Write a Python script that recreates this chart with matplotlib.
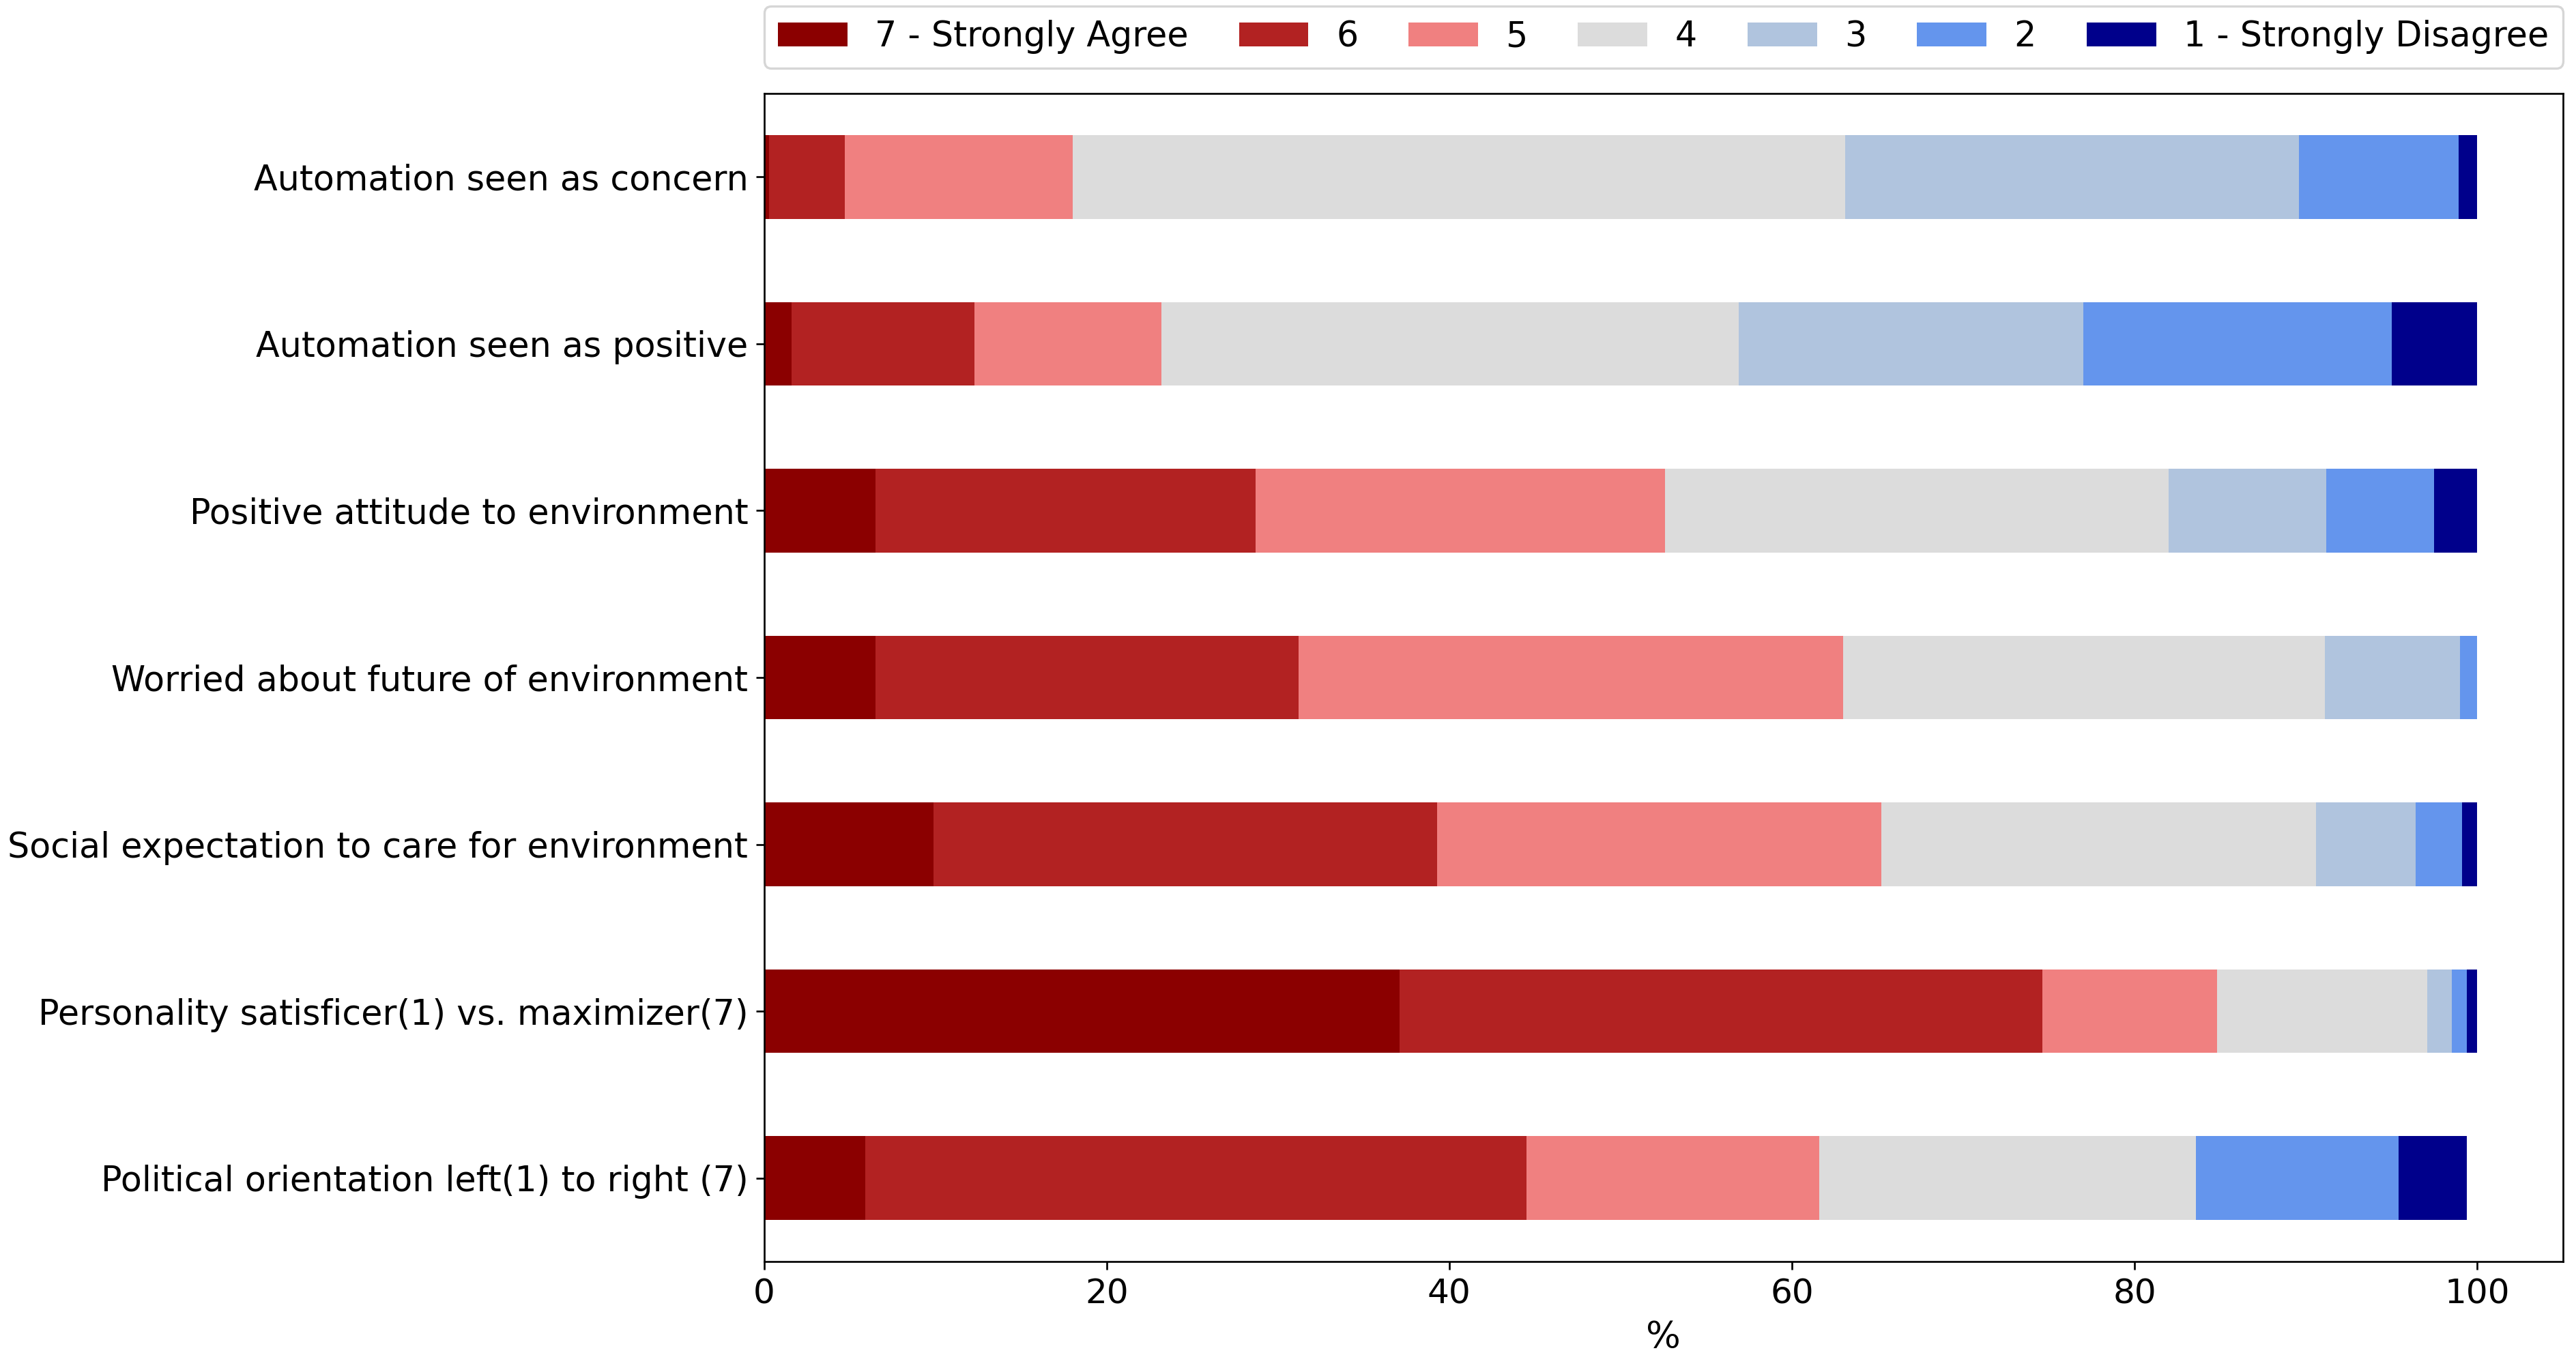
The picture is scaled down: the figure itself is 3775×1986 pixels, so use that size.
import numpy as np
from matplotlib import pyplot as plt

# survey items, listed bottom to top as drawn
items = ['Political orientation left(1) to right (7)',
         'Personality satisficer(1) vs. maximizer(7)',
         'Social expectation to care for environment',
         'Worried about future of environment',
         'Positive attitude to environment',
         'Automation seen as positive',
         'Automation seen as concern']

levels = ['7 - Strongly Agree', '6', '5', '4', '3', '2', '1 - Strongly Disagree']

# percentage of answers per level, same order as items
agree_7 = [5.9, 37.1, 9.9, 6.5, 6.5, 1.6, 0.3]
level_6 = [38.6, 37.5, 29.4, 24.7, 22.2, 10.7, 4.4]
level_5 = [17.1, 10.2, 25.9, 31.8, 23.9, 10.9, 13.3]
level_4 = [22.0, 12.3, 25.4, 28.1, 29.4, 33.7, 45.1]
level_3 = [0.0, 1.4, 5.8, 7.9, 9.2, 20.1, 26.5]
level_2 = [11.8, 0.9, 2.7, 1.0, 6.3, 18.0, 9.3]
disagree_1 = [4.0, 0.6, 0.9, 0.0, 2.5, 5.0, 1.1]

colors = ['darkred', 'firebrick', 'lightcoral', 'gainsboro',
          'lightsteelblue', 'cornflowerblue', 'darkblue']

dpi = 240.75
fig = plt.figure(figsize=(3775 / dpi, 1986 / dpi), dpi=dpi)
ax = fig.add_axes([0.2966, 0.0691, 0.6983, 0.8618])

y = np.arange(len(items))
left = np.zeros(len(items))
for values, label, color in zip([agree_7, level_6, level_5, level_4, level_3, level_2, disagree_1],
                                levels, colors):
    ax.barh(y, values, height=0.5, left=left, color=color, label=label)
    left += np.array(values)

ax.set_yticks(y)
ax.set_yticklabels(items, fontsize=15.2)
ax.set_ylim(-0.5, len(items) - 0.5)
ax.set_xlim(0, 105)
ax.set_xticks([0, 20, 40, 60, 80, 100])
ax.tick_params(axis='x', labelsize=15)
ax.set_xlabel('%', fontsize=16)

ax.legend(bbox_to_anchor=(0, 1.022, 1, 0.1), loc='lower left', ncol=7,
          mode='expand', borderaxespad=0, fontsize=15.2)

plt.savefig('out.png', dpi=dpi)
